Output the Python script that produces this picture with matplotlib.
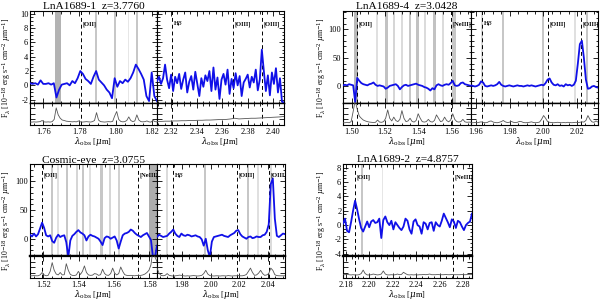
import numpy as np
import matplotlib
matplotlib.use("Agg")
import matplotlib.pyplot as plt
from matplotlib.ticker import MultipleLocator, FormatStrFormatter, NullFormatter

plt.rcParams['font.family'] = ['Liberation Serif', 'DejaVu Serif']
plt.rcParams['mathtext.fontset'] = 'dejavuserif'
plt.rcParams['axes.unicode_minus'] = False

# ------------------------------------------------------------------ data
titles = ["LnA1689-1  z=3.7760", "LnA1689-4  z=3.0428",
          "Cosmic-eye  z=3.0755", "LnA1689-2  z=4.8757"]

# ---- LnA1689-1, left window
p1a_range = (1.7526, 1.8229)
p1a_flux = [0.3, 0.2, 0.3, 0.1, 0.7, 0.2, 0.2, 0.3, 0.1, 0.3, -1.7, -0.6, 0.1, 0.2,
            0.3, 0.0, 0.6, 0.3, 1.0, 2.0, 1.6, 0.9, 0.6, 0.2, 1.2, 2.0, 0.8, 0.4,
            0.0, -0.6, -1.0, -1.8, 1.0, -0.2, 0.6, 0.3, 0.8, 0.5, 1.0, 1.8, 2.9, 2.3,
            1.6, 0.8, -1.5, -2.2, 1.8, -1.5, -2.2]
p1a_sky = [0.13, 0.13, 0.14, 0.13, 0.14, 0.15, 0.2, 0.14, 0.13, 0.14, 0.13, 0.15, 0.25,
           0.76, 0.45, 0.3, 0.22, 0.2, 0.17, 0.16, 0.15, 0.14, 0.15, 0.14, 0.18, 0.14,
           0.13, 0.14, 0.15, 0.14, 0.13, 0.15, 0.2, 0.55, 0.22, 0.15, 0.14, 0.13, 0.14,
           0.15, 0.14, 0.16, 0.4, 0.6, 0.25, 0.16, 0.14, 0.15, 0.2, 0.36, 0.2, 0.15,
           0.18, 0.45, 0.22, 0.15, 0.14, 0.15, 0.18, 0.14, 0.13, 0.2, 0.15, 0.14]
p1a_bands = [(1.7664, 1.7696), (1.7884, 1.7895), (1.7991, 1.8002), (1.8066, 1.8074),
             (1.8111, 1.8122)]
p1a_band_grey = [0.70, 0.78, 0.78, 0.90, 0.78]
p1a_lines = [1.7808]
p1a_names = ['[OII]']

# ---- LnA1689-1, right window
p1b_range = (2.3090, 2.4086)
p1b_flux = [0.6, 1.2, 0.2, 1.0, 2.9, 0.8, -0.4, 1.5, -0.8, 1.2, 0.3, 1.6, -0.5, 0.8,
            1.8, -1.0, 0.5, 1.3, -0.6, 1.9, 0.2, -1.5, 1.0, -0.2, 1.4, 0.6, 2.0, -0.8,
            2.5, -0.6, 1.1, -1.9, 0.8, 1.6, 0.1, 2.2, -1.2, 0.9, -0.4, 1.7, 0.0, 1.3,
            -1.5, 0.4, 0.9, 1.5, -0.3, 1.2, 0.4, 2.2, -0.7, 0.8, 5.0, 2.0, -0.8, 1.4,
            -1.4, 1.8, 0.2, 2.4, -1.0, 1.0, -2.3, -2.4]
p1b_sky = [0.16, 0.16, 0.17, 0.17, 0.18, 0.18, 0.19, 0.19, 0.2, 0.2, 0.21, 0.21, 0.22,
           0.22, 0.23, 0.24, 0.24, 0.25, 0.27, 0.3, 0.27, 0.28, 0.29, 0.3, 0.3, 0.31,
           0.32, 0.33, 0.34, 0.35, 0.36, 0.38]
p1b_bands = []
p1b_band_grey = []
p1b_lines = [2.3205, 2.3684, 2.3911]
p1b_names = [r'H$\beta$', '[OIII]', '[OIII]']

# ---- LnA1689-4, left window
p2a_range = (1.4948, 1.5716)
p2a_flux = [2, 3, 2, 4, 3, 2, -27, 15, 10, 6, 4, 3, 2, 4, 5, 7, 3, 1, 2, 1, 0, -4, -2,
            1, 2, 3, 4, 1, -5, -1, 2, 3, 1, 2, 3, 4, 5, 3, 2, 1, -1, -2, -4, -7, -3,
            -5, 2, 4, 2, 1, 3, 4, 3, 6, 10, 2, 1, 2, 6, 7, 4, 3, 2, 1]
p2a_sky = [0.1, 0.1, 0.12, 0.1, 0.15, 0.6, 1.1, 0.7, 0.4, 0.3, 0.22, 0.18, 0.15, 0.13,
           0.12, 0.11, 0.12, 0.22, 0.13, 0.12, 0.15, 0.3, 0.67, 0.3, 0.18, 0.35, 0.2,
           0.15, 0.25, 0.64, 0.3, 0.15, 0.18, 0.3, 0.16, 0.13, 0.2, 0.5, 0.3, 0.15,
           0.13, 0.15, 0.25, 0.15, 0.13, 0.2, 0.45, 0.3, 0.15, 0.18, 0.35, 0.2, 0.14,
           0.22, 0.5, 0.25, 0.15, 0.13, 0.15, 0.25, 0.14, 0.12, 0.13, 0.12]
p2a_bands = [(1.5014, 1.5038), (1.5148, 1.5160), (1.5197, 1.5215), (1.5248, 1.5260),
             (1.5294, 1.5306), (1.5341, 1.5353), (1.5383, 1.5401), (1.5434, 1.5446),
             (1.5491, 1.5509), (1.5544, 1.5556), (1.5602, 1.5626)]
p2a_band_grey = [0.72, 0.88, 0.76, 0.84, 0.86, 0.78, 0.76, 0.86, 0.76, 0.86, 0.78]
p2a_lines = [1.5032, 1.5594]
p2a_names = ['[OII]', '[NeIII]']

# ---- LnA1689-4, right window
p2b_range = (1.9570, 2.0325)
p2b_flux = [2, 1, 0, 1, 3, 9, 7, 1, 0, 1, 2, 1, 2, 4, 8, 3, 1, 0, 1, 2, 1, 0, 1, 2, 1,
            1, 0, 1, 2, 1, 2, 1, 0, 1, 2, 3, 2, 6, 12, 14, 7, 3, 2, 4, 1, 2, 0, 4, 2,
            3, 1, 3, 10, 40, 74, 80, 50, 12, -4, -3, 0, 1, -1, -2]
p2b_sky = [0.1, 0.1, 0.11, 0.1, 0.12, 0.14, 0.12, 0.1, 0.11, 0.16, 0.18, 0.13, 0.11,
           0.1, 0.12, 0.15, 0.2, 0.14, 0.11, 0.12, 0.16, 0.12, 0.11, 0.12, 0.16, 0.15,
           0.11, 0.1, 0.11, 0.12, 0.14, 0.11, 0.1, 0.11, 0.13, 0.25, 0.42, 0.3, 0.15,
           0.12, 0.11, 0.1, 0.11, 0.12, 0.11, 0.1, 0.11, 0.1, 0.12, 0.11, 0.1, 0.11,
           0.12, 0.11, 0.12, 0.14, 0.13, 0.2, 0.42, 0.25, 0.14, 0.12, 0.18, 0.13]
p2b_bands = [(1.9628, 1.9640), (1.9756, 1.9768), (1.9990, 2.0002), (2.0182, 2.0194),
             (2.0252, 2.0264)]
p2b_band_grey = [0.86, 0.78, 0.78, 0.88, 0.78]
p2b_lines = [1.9634, 2.0030, 2.0222]
p2b_names = [r'H$\beta$', '[OIII]', '[OIII]']

# ---- Cosmic-eye, left window
p3a_range = (1.5125, 1.5844)
p3a_flux = [7, 4, 9, 4, 8, 18, 28, 19, 6, 4, 6, -4, -7, 2, 7, 3, 5, 6, -6, -32, -3, 5,
            8, 12, 15, 11, 9, 6, -3, 4, 7, 5, 4, 2, 0, -5, -11, 1, 4, 3, 0, 2, 4, -3,
            -17, -5, 6, 9, 10, 12, 16, 14, 10, 7, 5, 3, 6, 8, 10, 4, -2, -32, -32, -12]
p3a_sky = [0.1, 0.1, 0.11, 0.1, 0.1, 0.14, 0.25, 0.14, 0.1, 0.12, 0.3, 0.7, 0.35, 0.18,
           0.14, 0.25, 0.14, 0.15, 0.65, 0.35, 0.16, 0.12, 0.11, 0.14, 0.3, 0.16, 0.3,
           0.55, 0.25, 0.14, 0.12, 0.13, 0.2, 0.18, 0.12, 0.15, 0.4, 0.2, 0.13, 0.12,
           0.2, 0.45, 0.22, 0.14, 0.2, 0.5, 0.3, 0.15, 0.12, 0.11, 0.12, 0.11, 0.1, 0.12,
           0.11, 0.12, 0.14, 0.18, 0.25, 0.35, 0.6, 1.3, 0.95, 0.75]
p3a_bands = [(1.5242, 1.5257), (1.5280, 1.5290), (1.5327, 1.5342), (1.5384, 1.5394),
             (1.5418, 1.5431), (1.5460, 1.5470), (1.5523, 1.5537), (1.5573, 1.5583),
             (1.5624, 1.5634), (1.5800, 1.5844)]
p3a_band_grey = [0.78, 0.88, 0.78, 0.84, 0.78, 0.88, 0.78, 0.84, 0.82, 0.68]
p3a_lines = [1.5191, 1.5738]
p3a_names = ['[OII]', '[NeIII]']

# ---- Cosmic-eye, right window
p3b_range = (1.9629, 2.0516)
p3b_flux = [3, 7, 5, 3, 4, 5, 9, 12, 16, 9, 5, 3, 9, 6, 5, 7, 6, 4, 5, 6, 4, 3, -1,
            -12, 0, -20, -32, -5, 3, 4, 5, 6, 7, 5, 4, 3, 6, 8, 10, 14, 15, 8, 4, 2, 0,
            3, 4, 1, 2, 4, 3, 3, 6, 7, 12, 25, 95, 105, 35, 5, 3, 6, 9, 8]
p3b_sky = [0.45, 0.22, 0.12, 0.1, 0.12, 0.2, 0.12, 0.1, 0.09, 0.1, 0.11, 0.13, 0.12,
           0.1, 0.09, 0.1, 0.09, 0.1, 0.11, 0.1, 0.09, 0.1, 0.12, 0.2, 0.35, 0.18, 0.11,
           0.1, 0.09, 0.1, 0.1, 0.09, 0.1, 0.1, 0.09, 0.11, 0.1, 0.09, 0.1, 0.1, 0.11,
           0.1, 0.1, 0.12, 0.16, 0.3, 0.45, 0.25, 0.12, 0.14, 0.22, 0.35, 0.2, 0.12,
           0.14, 0.2, 0.45, 0.35, 0.15, 0.11, 0.1, 0.1, 0.1, 0.1]
p3b_bands = [(1.9689, 1.9703), (1.9955, 1.9969), (2.0255, 2.0269), (2.0324, 2.0338),
             (2.0412, 2.0426)]
p3b_band_grey = [0.86, 0.78, 0.78, 0.88, 0.86]
p3b_lines = [1.9738, 2.0181, 2.0405]
p3b_names = [r'H$\beta$', '[OIII]', '[OIII]']

# ---- LnA1689-2
p4_range = (2.1776, 2.2874)
p4_flux = [0.2, 0.9, -0.8, -1.0, 0.4, 2.0, 3.4, 2.2, 0.8, -0.4, -0.9, -0.2, 0.5, -0.3,
           0.5, 0.7, 0.3, 0.4, 0.9, -1.8, 0.7, 1.2, 0.4, 0.0, 0.6, -0.6, 0.4, 0.0, -0.4,
           -0.7, -0.2, 0.9, 0.6, -0.6, -1.2, 0.5, 0.8, 0.0, -0.2, -1.2, 0.4, 0.2, -0.6,
           0.3, 0.4, -0.8, 0.4, 0.0, -0.2, 0.6, 1.6, 1.0, 0.4, -0.3, 0.8, 0.5, -0.4,
           0.6, 0.4, -0.2, -0.7, 0.0, 0.3, 0.5, 1.6]
p4_sky = [0.15, 0.15, 0.17, 0.15, 0.14, 0.15, 0.14, 0.14, 0.15, 0.2, 0.36, 0.2, 0.14,
          0.14, 0.15, 0.18, 0.16, 0.14, 0.15, 0.18, 0.32, 0.18, 0.14, 0.14, 0.15, 0.14,
          0.15, 0.18, 0.15, 0.16, 0.26, 0.2, 0.15, 0.14, 0.15, 0.14, 0.15, 0.14, 0.15,
          0.15, 0.16, 0.15, 0.16, 0.18, 0.15, 0.15, 0.15, 0.16, 0.15, 0.15, 0.15, 0.16,
          0.15, 0.15, 0.16, 0.15, 0.15, 0.15, 0.15, 0.16, 0.15, 0.15, 0.16, 0.15, 0.16]
p4_bands = [(2.1932, 2.1949), (2.2106, 2.2114)]
p4_band_grey = [0.78, 0.9]
p4_lines = [2.1878, 2.2710]
p4_names = ['[OII]', '[NeIII]']

# ------------------------------------------------------------------ drawing
W, H = 600, 300
fig = plt.figure(figsize=(6, 3), dpi=100)

YLABEL = r'F$_\lambda$ [10$^{-18}$ erg s$^{-1}$ cm$^{-2}$ $\mu$m$^{-1}$]'
XLABEL = r'$\lambda_{\rm obs}$ [$\mu$m]'
BLUE = '#1010e8'


def rect(x0, x1, y0, y1):
    return [x0 / W, 1 - y1 / H, (x1 - x0) / W, (y1 - y0) / H]


def subpanel(xpix, ypix, xr, flux, sky, bands, greys, lines, names,
             ylim, ymaj, ymin, ylabels, divider_lw, label_frac):
    x0, x1 = xpix
    ytop, ysplit, ybot = ypix
    axm = fig.add_axes(rect(x0, x1, ytop, ysplit))
    axr = fig.add_axes(rect(x0, x1, ysplit, ybot))
    for (a, b), g in zip(bands, greys):
        axm.axvspan(a, b, color=str(g), lw=0, zorder=0)
    wave = np.linspace(xr[0], xr[1], len(flux))
    axm.plot(wave, flux, color=BLUE, lw=1.3, zorder=3)
    swave = np.linspace(xr[0], xr[1], len(sky))
    axr.plot(swave, sky, color='#555555', lw=0.6, zorder=3)
    for lam, nm in zip(lines, names):
        for ax in (axm, axr):
            ax.axvline(lam, color='k', lw=0.7, ls=(0, (4, 3)), zorder=2)
        axm.annotate(nm, xy=(lam, label_frac), xycoords=('data', 'axes fraction'),
                     xytext=(1.0, 0), textcoords='offset points', fontsize=4.6,
                     ha='left', va='center', fontweight='bold', zorder=5)
    for ax in (axm, axr):
        ax.set_xlim(*xr)
        ax.xaxis.set_major_locator(MultipleLocator(0.02))
        ax.xaxis.set_minor_locator(MultipleLocator(0.005))
        ax.tick_params(which='both', direction='in', top=True, right=True,
                       labelsize=6, width=0.6)
        ax.tick_params(which='major', length=3.5)
        ax.tick_params(which='minor', length=1.8)
        for s in ax.spines.values():
            s.set_linewidth(0.8)
    axm.xaxis.set_major_formatter(NullFormatter())
    axr.xaxis.set_major_formatter(FormatStrFormatter('%.2f'))
    axr.tick_params(axis='x', pad=2.0)
    axm.set_ylim(*ylim)
    axm.yaxis.set_major_locator(MultipleLocator(ymaj))
    axm.yaxis.set_minor_locator(MultipleLocator(ymin))
    axm.tick_params(axis='y', pad=1.2)
    if not ylabels:
        axm.yaxis.set_major_formatter(NullFormatter())
    axr.set_ylim(0, 1)
    axr.yaxis.set_major_locator(MultipleLocator(0.25))
    axr.yaxis.set_major_formatter(NullFormatter())
    axm.spines['bottom'].set_linewidth(divider_lw)
    axr.spines['top'].set_linewidth(divider_lw)
    return axm, axr


# top row
TOP = (11, 102.5, 125)
subpanel((30, 157), TOP, p1a_range, p1a_flux, p1a_sky, p1a_bands, p1a_band_grey,
         p1a_lines, p1a_names, (-2.4, 10.4), 2, 0.5, True, 1.0, 0.86)
subpanel((157, 284), TOP, p1b_range, p1b_flux, p1b_sky, p1b_bands, p1b_band_grey,
         p1b_lines, p1b_names, (-2.4, 10.4), 2, 0.5, False, 1.0, 0.86)
subpanel((343, 471), TOP, p2a_range, p2a_flux, p2a_sky, p2a_bands, p2a_band_grey,
         p2a_lines, p2a_names, (-28, 132), 50, 10, True, 1.0, 0.86)
subpanel((471, 598), TOP, p2b_range, p2b_flux, p2b_sky, p2b_bands, p2b_band_grey,
         p2b_lines, p2b_names, (-28, 132), 50, 10, False, 1.0, 0.86)

# bottom row
BOT = (164, 256, 278)
subpanel((30, 157), BOT, p3a_range, p3a_flux, p3a_sky, p3a_bands, p3a_band_grey,
         p3a_lines, p3a_names, (-30, 130), 50, 10, True, 1.6, 0.88)
subpanel((157, 285), BOT, p3b_range, p3b_flux, p3b_sky, p3b_bands, p3b_band_grey,
         p3b_lines, p3b_names, (-30, 130), 50, 10, False, 1.6, 0.88)
subpanel((343, 472), BOT, p4_range, p4_flux, p4_sky, p4_bands, p4_band_grey,
         p4_lines, p4_names, (-4.3, 8.5), 2, 0.5, True, 1.6, 0.855)

# titles
for txt, cx, base in zip(titles, (93.5, 407, 93.5, 407.5), (9.3, 9.3, 162.7, 161.7)):
    fig.text(cx / W, 1 - base / H, txt, ha='center', va='baseline', fontsize=8.2)

# y labels
for cx, cy in ((6.5, 68), (322.0, 68), (6.5, 221), (322.0, 221)):
    fig.text(cx / W, 1 - cy / H, YLABEL, rotation=90, ha='center', va='center',
             fontsize=5.5)

# x labels
for cx, cy in ((93.5, 141.5), (220.5, 141.5), (407, 141.5), (534.5, 141.5),
               (93.5, 294.5), (221, 294.5), (407.5, 294.5)):
    fig.text(cx / W, 1 - cy / H, XLABEL, ha='center', va='center', fontsize=6.2)

fig.savefig('out.png', dpi=100)
